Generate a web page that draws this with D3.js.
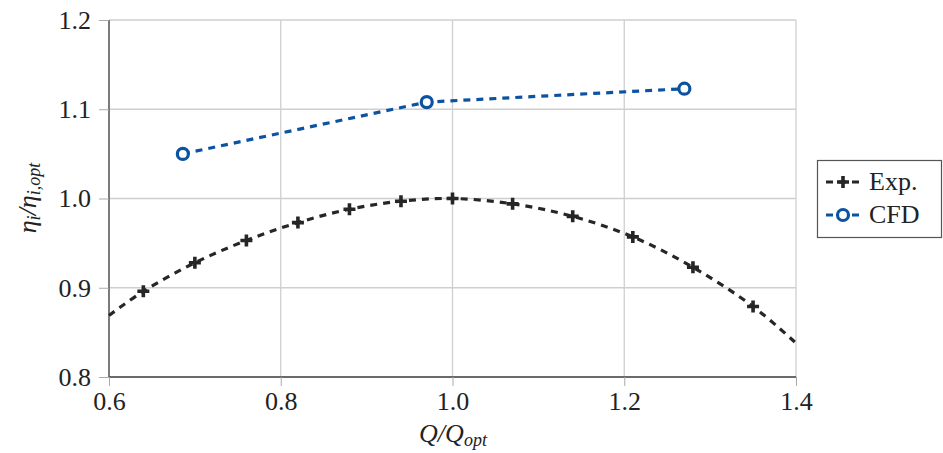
<!DOCTYPE html>
<html>
<head>
<style>
  body { margin: 0; background: #fff; }
  svg text { fill: #222; }
</style>
<script src="https://d3js.org/d3.v7.min.js"></script>
</head>
<body>
<svg width="943" height="453"></svg>
<script>
// measured points (Exp.)
var expX = [0.64, 0.70, 0.76, 0.82, 0.88, 0.94, 1.00, 1.07, 1.14, 1.21, 1.28, 1.35];
var expY = [0.896, 0.928, 0.953, 0.973, 0.988, 0.997, 1.000, 0.994, 0.980, 0.957, 0.923, 0.879];
// fitted curve runs to the edges of the plot
var fitX = [0.60].concat(expX, [1.40]);
var fitY = [0.869].concat(expY, [0.838]);
// CFD
var cfdX = [0.686, 0.970, 1.270];
var cfdY = [1.050, 1.108, 1.123];

var xTicks = [0.6, 0.8, 1.0, 1.2, 1.4];
var yTicks = [0.8, 0.9, 1.0, 1.1, 1.2];
var legendNames = ["Exp.", "CFD"];

var svg = d3.select("svg");
var m = {left: 109, right: 796, top: 20, bottom: 377};

var x = d3.scaleLinear().domain([0.6, 1.4]).range([m.left, m.right]);
var y = d3.scaleLinear().domain([0.8, 1.2]).range([m.bottom, m.top]);

var blue = "#0b53a1", dark = "#262626";
var serif = "Liberation Serif";
svg.attr("font-family", serif);

// grid
svg.append("g").selectAll("line").data(xTicks).enter().append("line")
  .attr("x1", d => x(d)).attr("x2", d => x(d))
  .attr("y1", m.top).attr("y2", m.bottom)
  .attr("stroke", "#cfcfcf").attr("stroke-width", 1.3);
svg.append("g").selectAll("line").data(yTicks).enter().append("line")
  .attr("x1", m.left).attr("x2", m.right)
  .attr("y1", d => y(d)).attr("y2", d => y(d))
  .attr("stroke", "#cfcfcf").attr("stroke-width", 1.3);

// axes
var xAxis = svg.append("g").attr("transform", "translate(0," + m.bottom + ")")
  .call(d3.axisBottom(x).tickValues(xTicks).tickFormat(d3.format(".1f")).tickSize(9).tickPadding(6));
var yAxis = svg.append("g").attr("transform", "translate(" + m.left + ",0)")
  .call(d3.axisLeft(y).tickValues(yTicks).tickFormat(d3.format(".1f")).tickSize(10).tickPadding(8));
[xAxis, yAxis].forEach(function(a) {
  a.attr("font-family", serif).attr("font-size", 26);
  a.select(".domain").attr("stroke", "#444").attr("stroke-width", 1.3);
  a.selectAll(".tick line").attr("stroke", "#aaa").attr("stroke-width", 1);
  a.selectAll(".tick text").attr("fill", "#222");
});
xAxis.select(".domain").attr("d", "M" + m.left + ",0H" + m.right);
yAxis.select(".domain").attr("d", "M0," + m.top + "V" + m.bottom);

// lines
var line = d3.line().x(d => x(d[0])).y(d => y(d[1]));
svg.append("path")
  .datum(fitX.map((v, i) => [v, fitY[i]]))
  .attr("d", line.curve(d3.curveCatmullRom.alpha(0.5)))
  .attr("fill", "none").attr("stroke", dark).attr("stroke-width", 3.2)
  .attr("stroke-dasharray", "7,6");
svg.append("path")
  .datum(cfdX.map((v, i) => [v, cfdY[i]]))
  .attr("d", d3.line().x(d => x(d[0])).y(d => y(d[1])))
  .attr("fill", "none").attr("stroke", blue).attr("stroke-width", 3.2)
  .attr("stroke-dasharray", "7,6");

// markers
function plus(g, cx, cy, s) {
  g.append("path")
    .attr("d", "M" + (cx - s) + "," + cy + "H" + (cx + s) + "M" + cx + "," + (cy - s) + "V" + (cy + s))
    .attr("stroke", dark).attr("stroke-width", 3.6).attr("fill", "none");
}
var mk = svg.append("g");
expX.forEach(function(v, i) { plus(mk, x(v), y(expY[i]), 6); });
cfdX.forEach(function(v, i) {
  mk.append("circle").attr("cx", x(v)).attr("cy", y(cfdY[i])).attr("r", 5.5)
    .attr("fill", "#fff").attr("stroke", blue).attr("stroke-width", 3.2);
});

// axis titles
var xt = svg.append("text").attr("x", 453).attr("y", 442).attr("text-anchor", "middle")
  .attr("font-size", 26).attr("font-style", "italic");
xt.append("tspan").text("Q/Q");
xt.append("tspan").attr("font-size", 18).attr("dy", 4).text("opt");

var yt = svg.append("text").attr("transform", "translate(36,198) rotate(-90)")
  .attr("text-anchor", "middle").attr("font-size", 26).attr("font-style", "italic");
yt.append("tspan").text("η");
yt.append("tspan").attr("font-size", 18).attr("dy", 4).text("i");
yt.append("tspan").attr("dy", -4).text("/η");
yt.append("tspan").attr("font-size", 18).attr("dy", 4).text("i,opt");

// legend
var lg = svg.append("g").attr("transform", "translate(817,160)");
lg.append("rect").attr("x", 0.5).attr("y", 0.5).attr("width", 124).attr("height", 77)
  .attr("fill", "#fff").attr("stroke", "#555").attr("stroke-width", 1.2);
legendNames.forEach(function(name, i) {
  var cy = 22 + i * 33;
  var col = i === 0 ? dark : blue;
  lg.append("line").attr("x1", 9).attr("x2", 42).attr("y1", cy).attr("y2", cy)
    .attr("stroke", col).attr("stroke-width", 3.2).attr("stroke-dasharray", "7,6");
  if (i === 0) plus(lg, 26, cy, 6);
  else lg.append("circle").attr("cx", 26).attr("cy", cy).attr("r", 5.5)
    .attr("fill", "#fff").attr("stroke", blue).attr("stroke-width", 3.2);
  lg.append("text").attr("x", 52).attr("y", cy + 8).attr("font-size", 26).text(name);
});
</script>
</body>
</html>
